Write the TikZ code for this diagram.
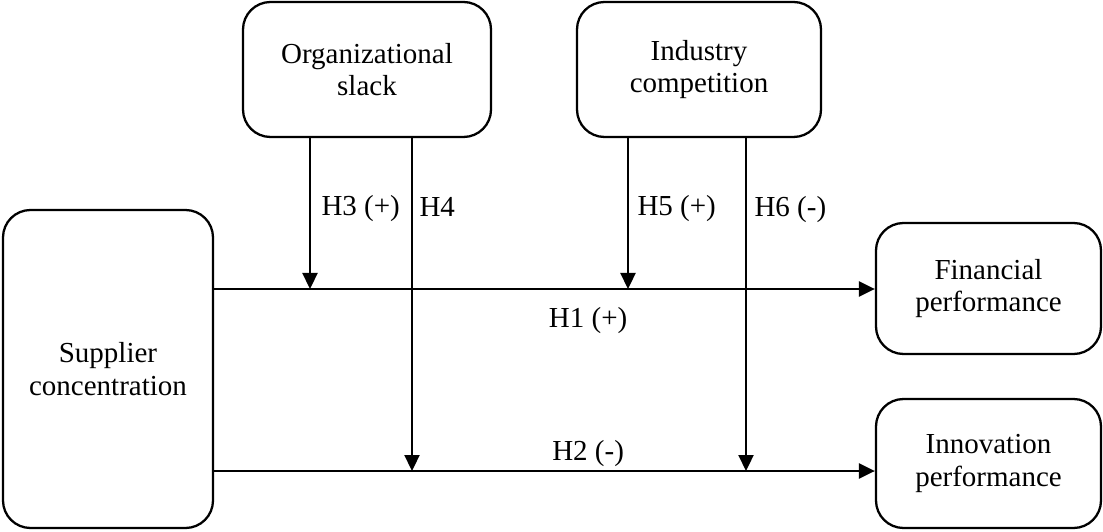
\documentclass[tikz,border=0pt]{standalone}
\usepackage{fontspec}
\setmainfont{Liberation Serif}
\usetikzlibrary{arrows.meta}

\begin{document}
\begin{tikzpicture}[font=\fontsize{16.5}{18.5}\selectfont,
    line width=1.3pt,
    >={Triangle[length=0.32cm,width=0.3cm]}]

        \useasboundingbox (0,0) rectangle (22.06,10.62);

        \begin{scope}[every node/.style={draw,rounded corners=0.55cm,align=center,inner sep=0pt}]
          \node[minimum width=4.2cm,minimum height=6.36cm]  (sup) at (2.16,3.24)  {Supplier\\concentration};
          \node[minimum width=4.96cm,minimum height=2.7cm]  (org) at (7.34,9.23)  {Organizational\\slack};
          \node[minimum width=4.88cm,minimum height=2.7cm]  (ind) at (13.98,9.23) {Industry\\competition};
          \node[minimum width=4.5cm,minimum height=2.62cm]  (fin) at (19.77,4.85) {Financial\\performance};
          \node[minimum width=4.5cm,minimum height=2.58cm]  (inn) at (19.77,1.35) {Innovation\\performance};
        \end{scope}

        \coordinate (h1s) at (sup.east |- 0,4.84);
        \coordinate (h1e) at (fin.west |- 0,4.84);
        \coordinate (h2s) at (sup.east |- 0,1.2);
        \coordinate (h2e) at (inn.west |- 0,1.2);
        \coordinate (h3s) at (org.south -| 6.2,0);
        \coordinate (h4s) at (org.south -| 8.24,0);
        \coordinate (h5s) at (ind.south -| 12.56,0);
        \coordinate (h6s) at (ind.south -| 14.92,0);

        \begin{scope}[every edge/.style={draw,->}]
          \path (h1s) edge node[pos=0.566,below=0.22cm] {H1 (+)} (h1e);
          \path (h2s) edge node[pos=0.566,above=-0.06cm] {H2 (-)} (h2e);
          \path (h3s) edge node[pos=0.513,anchor=base west,xshift=0.09cm] {H3 (+)} (h3s |- h1s);
          \path (h4s) edge node[pos=0.234,anchor=base west,xshift=0.01cm] {H4}     (h4s |- h2s);
          \path (h5s) edge node[pos=0.513,anchor=base west,xshift=0.05cm] {H5 (+)} (h5s |- h1s);
          \path (h6s) edge node[pos=0.234,anchor=base west,xshift=0.03cm] {H6 (-)} (h6s |- h2s);
        \end{scope}

      \end{tikzpicture}
\end{document}
